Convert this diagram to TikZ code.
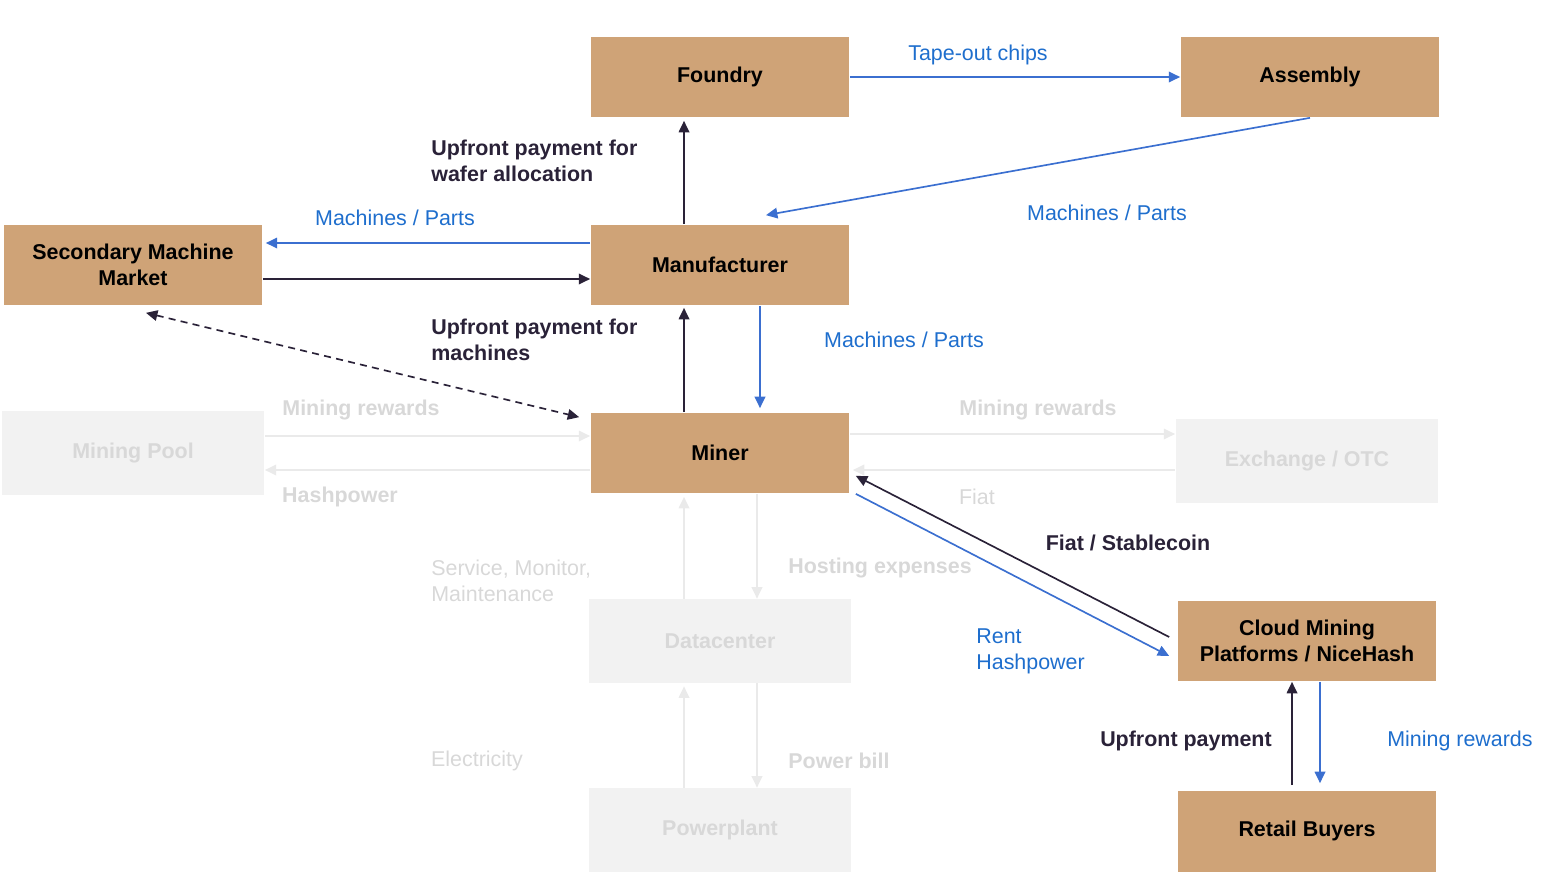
\documentclass[tikz,border=0pt]{standalone}
\usepackage{fontspec}
\setmainfont{Liberation Sans}
\usepackage{tikz}
\usetikzlibrary{arrows.meta}

\definecolor{boxtan}{RGB}{207,163,119}
\definecolor{fadefill}{RGB}{242,242,242}
\definecolor{fadetext}{RGB}{216,216,216}
\definecolor{fadeline}{RGB}{234,234,234}
\definecolor{flowblue}{RGB}{59,111,208}
\definecolor{textblue}{RGB}{30,110,205}
\definecolor{flowdark}{RGB}{42,34,56}

\newcommand{\lblfont}{\fontsize{12.2}{14.7}\selectfont}

\tikzset{
    box/.style={fill=boxtan, text=black, font=\lblfont\bfseries, align=center,
        minimum width=5.18cm, minimum height=1.62cm, inner sep=0pt},
    fadedbox/.style={fill=fadefill, text=fadetext, font=\lblfont\bfseries, align=center,
        minimum width=5.26cm, minimum height=1.68cm, inner sep=0pt},
    flow/.style={line width=0.95pt, -{Triangle[length=6.5pt,width=6pt]}},
    bluearrow/.style={flow, draw=flowblue},
    darkarrow/.style={flow, draw=flowdark},
    fadedarrow/.style={flow, draw=fadeline},
    bluelabel/.style={text=textblue, font=\lblfont, inner sep=0pt, align=left},
    darklabel/.style={text=flowdark, font=\lblfont\bfseries, inner sep=0pt, align=left},
    fadedlabel/.style={text=fadetext, font=\lblfont, inner sep=0pt, align=left},
    fadedboldlabel/.style={text=fadetext, font=\lblfont\bfseries, inner sep=0pt, align=left},
}

\begin{document}
\begin{tikzpicture}[x=0.02cm, y=-0.02cm]
    \useasboundingbox (0,0) rectangle (1556,886);

    % boxes of the supply chain
    \node[box] (foundry) at (720,77) {Foundry};
    \node[box] (assembly) at (1310,77) {Assembly};
    \node[box] (manu) at (720,265) {Manufacturer};
    \node[box] (smm) at (133,265) {Secondary Machine\\Market};
    \node[box] (miner) at (720,453) {Miner};
    \node[box] (cloud) at (1307,641) {Cloud Mining\\Platforms / NiceHash};
    \node[box] (retail) at (1307,831) {Retail Buyers};

    % faded boxes
    \node[fadedbox] (pool) at (133,453) {Mining Pool};
    \node[fadedbox] (exch) at (1307,461) {Exchange / OTC};
    \node[fadedbox] (dc) at (720,641) {Datacenter};
    \node[fadedbox] (power) at (720,830) {Powerplant};

    % foundry, assembly, manufacturer
    \draw[bluearrow] (foundry.east) -- (assembly.west);
    \node[bluelabel] (tapeout) at (978,55) {Tape-out chips};
    \draw[bluearrow] (assembly.south) -- ([xshift=0.92cm,yshift=0.18cm]manu.north);
    \node[bluelabel] (partsA) at (1107,213) {Machines / Parts};
    \draw[darkarrow] ([xshift=-0.72cm]manu.north) -- ([xshift=-0.72cm,yshift=-0.06cm]foundry.south);
    \node[darklabel, anchor=west] (wafer) at (431,161) {Upfront payment for\\wafer allocation};

    % secondary market
    \draw[bluearrow] ([yshift=0.44cm]manu.west) -- ([yshift=0.44cm,xshift=0.06cm]smm.east);
    \node[bluelabel] (partsB) at (395,218) {Machines / Parts};
    \draw[darkarrow] ([yshift=-0.28cm]smm.east) -- ([yshift=-0.28cm]manu.west);
    \draw[flowdark, line width=0.95pt, dashed, dash pattern=on 4pt off 3pt,
        {Triangle[length=6.5pt,width=6pt]}-{Triangle[length=6.5pt,width=6pt]}]
        ([xshift=0.26cm,yshift=-0.14cm]smm.south) -- ([xshift=-0.22cm,yshift=-0.1cm]miner.north west);

    % manufacturer and miner
    \draw[darkarrow] ([xshift=-0.72cm]miner.north) -- ([xshift=-0.72cm,yshift=-0.04cm]manu.south);
    \node[darklabel, anchor=west] (machpay) at (431,340) {Upfront payment for\\machines};
    \draw[bluearrow] ([xshift=0.8cm]manu.south) -- ([xshift=0.8cm,yshift=0.08cm]miner.north);
    \node[bluelabel] (partsC) at (904,340) {Machines / Parts};

    % mining pool
    \coordinate (poolR) at ([yshift=0.34cm]pool.east);
    \coordinate (poolH) at ([yshift=-0.34cm]miner.west);
    \draw[fadedarrow] (poolR) -- (poolR -| miner.west);
    \draw[fadedarrow] (poolH) -- (poolH -| pool.east);
    \node[fadedboldlabel] (poolrew) at (361,410) {Mining rewards};
    \node[fadedboldlabel] (hash) at (340,497) {Hashpower};

    % exchange
    \coordinate (exR) at ([yshift=0.38cm]miner.east);
    \coordinate (exF) at ([yshift=-0.18cm]exch.west);
    \draw[fadedarrow] (exR) -- (exR -| exch.west);
    \draw[fadedarrow] (exF) -- ([xshift=0.06cm]exF -| miner.east);
    \node[fadedboldlabel] (exrew) at (1038,410) {Mining rewards};
    \node[fadedlabel] (fiat) at (977,497) {Fiat};

    % datacenter and powerplant
    \draw[fadedarrow] ([xshift=-0.72cm]dc.north) -- ([xshift=-0.72cm,yshift=-0.06cm]miner.south);
    \draw[fadedarrow] ([xshift=0.74cm]miner.south) -- ([xshift=0.74cm]dc.north);
    \node[fadedlabel, anchor=west] (service) at (431,581) {Service, Monitor,\\Maintenance};
    \node[fadedboldlabel] (hosting) at (880,568) {Hosting expenses};
    \draw[fadedarrow] ([xshift=-0.72cm]power.north) -- ([xshift=-0.72cm,yshift=-0.06cm]dc.south);
    \draw[fadedarrow] ([xshift=0.74cm]dc.south) -- ([xshift=0.74cm]power.north);
    \node[fadedlabel] (elec) at (477,761) {Electricity};
    \node[fadedboldlabel] (bill) at (839,761) {Power bill};

    % cloud mining
    \draw[darkarrow] ([xshift=-0.16cm,yshift=0.08cm]cloud.west) -- ([xshift=0.12cm,yshift=0.36cm]miner.south east);
    \node[darklabel] (stable) at (1128,543) {Fiat / Stablecoin};
    \draw[bluearrow] ([xshift=0.12cm]miner.south east) -- ([xshift=-0.16cm,yshift=-0.3cm]cloud.west);
    \node[bluelabel, anchor=west] (rent) at (976,651) {Rent\\Hashpower};

    % retail buyers
    \draw[darkarrow] ([xshift=-0.3cm,yshift=0.1cm]retail.north) -- ([xshift=-0.3cm]cloud.south);
    \node[darklabel] (upfront) at (1186,741) {Upfront payment};
    \draw[bluearrow] ([xshift=0.26cm]cloud.south) -- ([xshift=0.26cm,yshift=0.14cm]retail.north);
    \node[bluelabel] (cloudrew) at (1460,741) {Mining rewards};
\end{tikzpicture}
\end{document}
